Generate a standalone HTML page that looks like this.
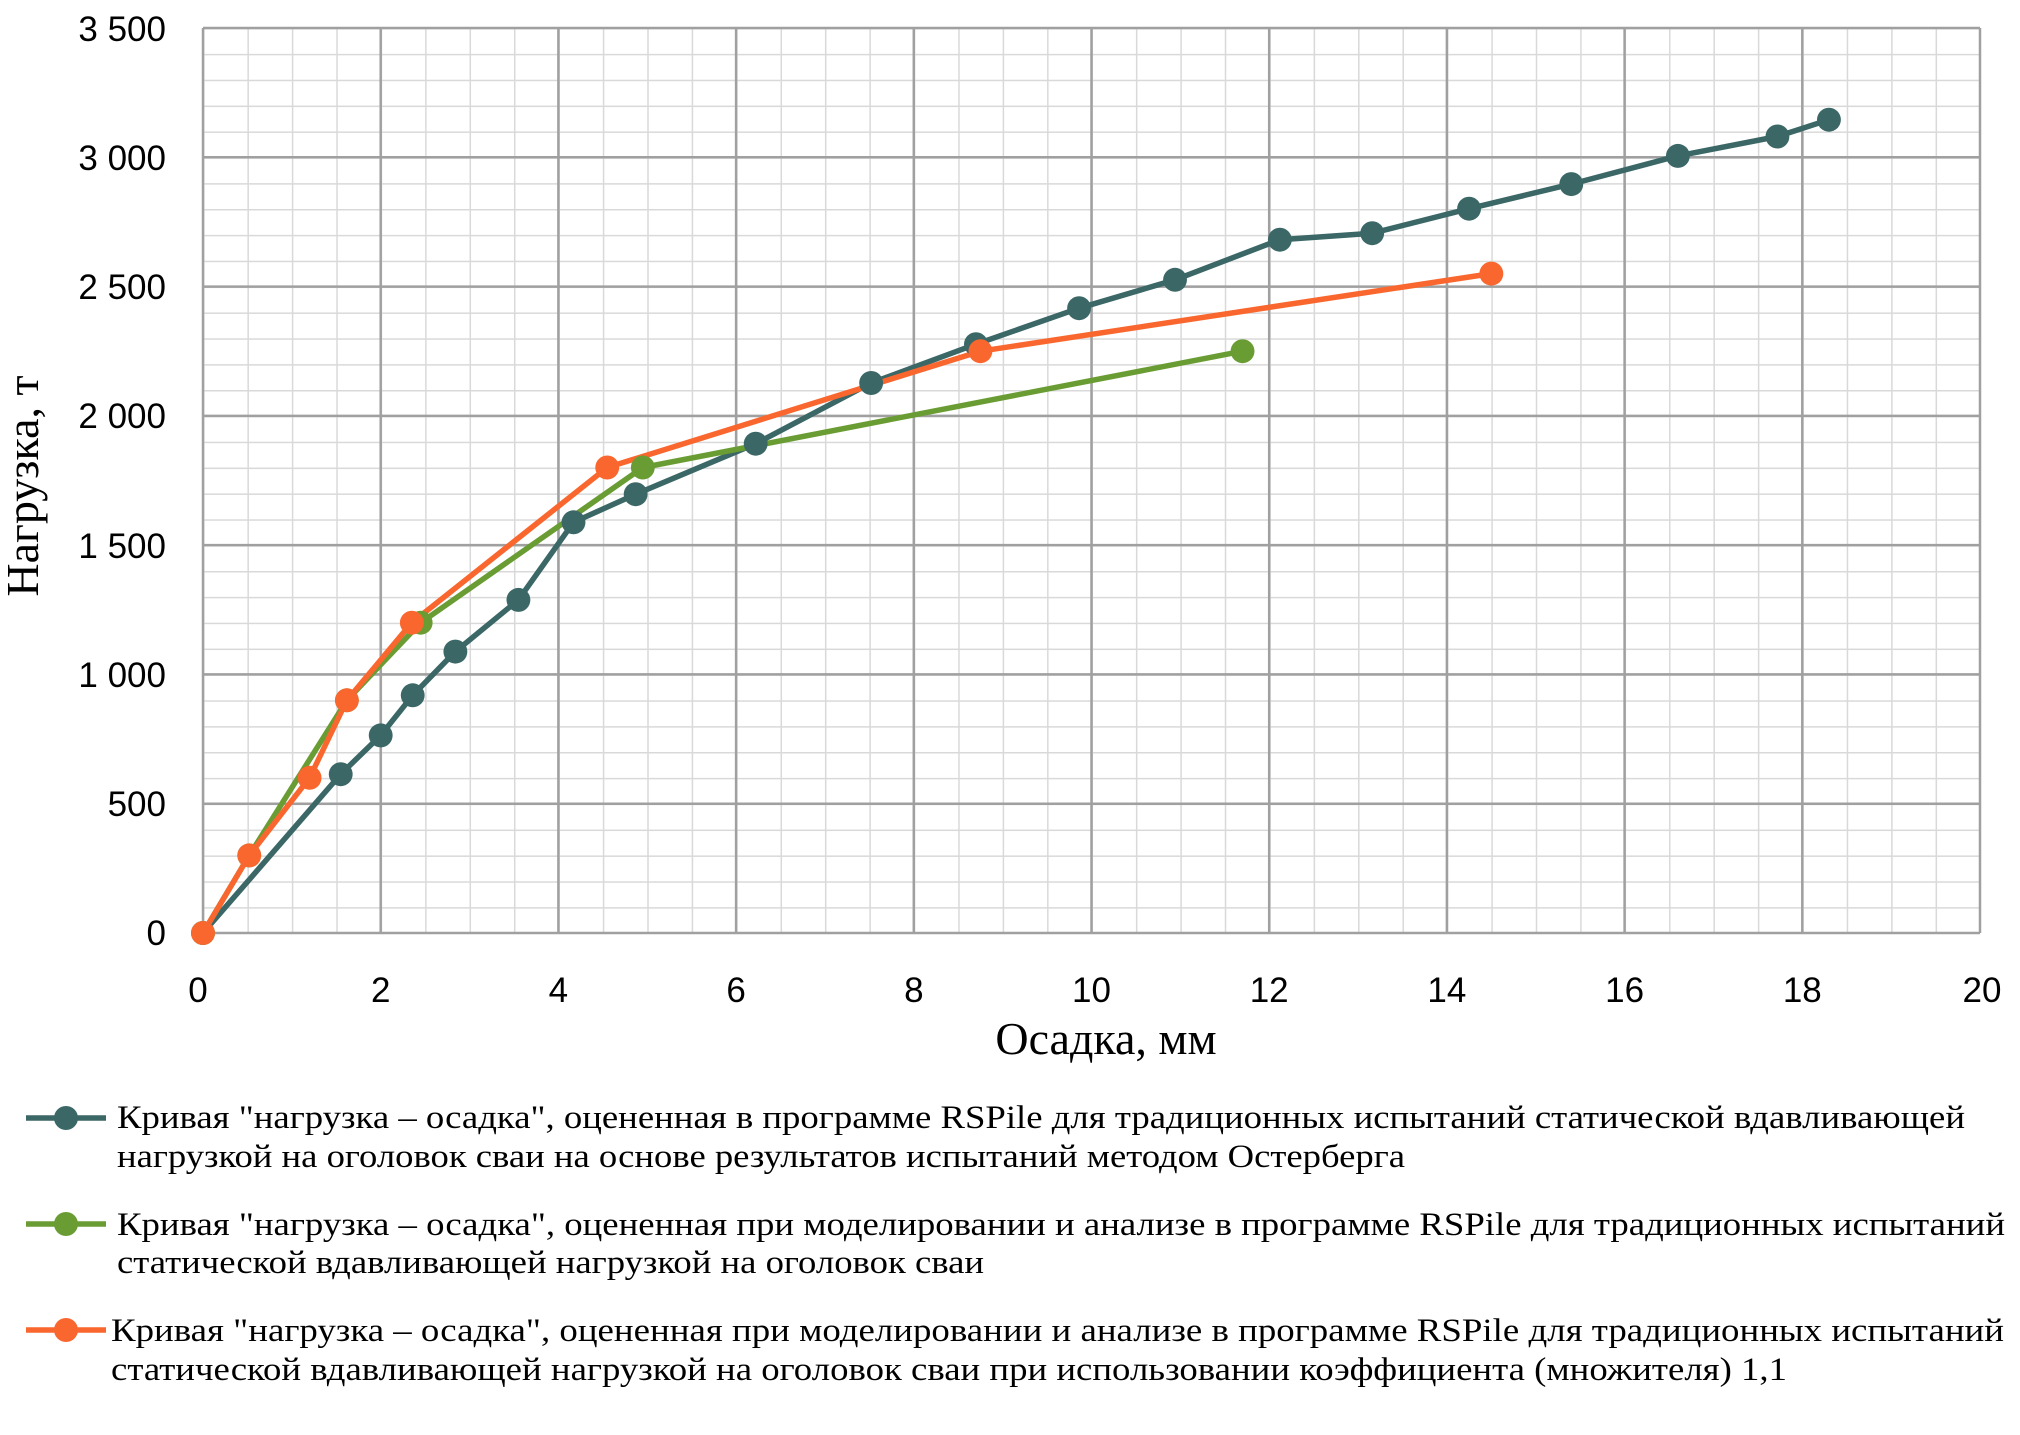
<!DOCTYPE html>
<html><head><meta charset="utf-8"><style>
html,body{margin:0;padding:0;background:#fff;width:2020px;height:1435px;overflow:hidden}
</style></head><body>
<svg width="2020" height="1435" xmlns="http://www.w3.org/2000/svg">
<defs>
<pattern id="mg" x="203" y="28" width="44.675" height="25.857" patternUnits="userSpaceOnUse">
<path d="M0 0 V25.857 M0 0 H44.675" stroke="#d9d9d9" stroke-width="3" fill="none"/>
</pattern>
</defs>
<g transform="translate(203,0) scale(0.9944,1) translate(-203,0)">
<rect x="203" y="28" width="1787" height="905" fill="url(#mg)"/>
<g stroke="#a0a0a0" stroke-width="2.5">
<line x1="203" y1="28" x2="203" y2="933"/><line x1="381.7" y1="28" x2="381.7" y2="933"/><line x1="560.4" y1="28" x2="560.4" y2="933"/><line x1="739.1" y1="28" x2="739.1" y2="933"/><line x1="917.8" y1="28" x2="917.8" y2="933"/><line x1="1096.5" y1="28" x2="1096.5" y2="933"/><line x1="1275.2" y1="28" x2="1275.2" y2="933"/><line x1="1453.9" y1="28" x2="1453.9" y2="933"/><line x1="1632.6" y1="28" x2="1632.6" y2="933"/><line x1="1811.3" y1="28" x2="1811.3" y2="933"/><line x1="1990" y1="28" x2="1990" y2="933"/>
<line x1="203" y1="933" x2="1990" y2="933"/><line x1="203" y1="803.7" x2="1990" y2="803.7"/><line x1="203" y1="674.4" x2="1990" y2="674.4"/><line x1="203" y1="545.1" x2="1990" y2="545.1"/><line x1="203" y1="415.9" x2="1990" y2="415.9"/><line x1="203" y1="286.6" x2="1990" y2="286.6"/><line x1="203" y1="157.3" x2="1990" y2="157.3"/><line x1="203" y1="28" x2="1990" y2="28"/>
</g>
<g fill="none" stroke-width="5.5" stroke-linejoin="round">
<polyline stroke="#3b6767" points="203,933 341.5,774.2 381.7,735.4 413.9,695.3 456.8,651.6 520.2,599.9 575.6,522.3 638.1,494.2 758.8,443.7 874.9,383 980.3,344.2 1084,308.2 1180.5,279.8 1285.9,239.7 1378.8,233.2 1476.2,208.7 1579,184.1 1686.2,155.9 1786.3,136.5 1838.1,119.7"/>
<polyline stroke="#6a9c34" points="203,933 249.5,855.4 347.7,700.3 421.9,622.7 645.3,467.5 1248.4,351.2"/>
<polyline stroke="#f9672f" points="203,933 249.5,855.4 310.2,777.8 347.7,700.3 413,622.7 609.5,467.5 984.8,351.2 1498.6,273.6"/>
</g>
<g fill="#3b6767">
<circle cx="203" cy="933" r="12"/><circle cx="341.5" cy="774.2" r="12"/><circle cx="381.7" cy="735.4" r="12"/><circle cx="413.9" cy="695.3" r="12"/><circle cx="456.8" cy="651.6" r="12"/><circle cx="520.2" cy="599.9" r="12"/><circle cx="575.6" cy="522.3" r="12"/><circle cx="638.1" cy="494.2" r="12"/><circle cx="758.8" cy="443.7" r="12"/><circle cx="874.9" cy="383" r="12"/><circle cx="980.3" cy="344.2" r="12"/><circle cx="1084" cy="308.2" r="12"/><circle cx="1180.5" cy="279.8" r="12"/><circle cx="1285.9" cy="239.7" r="12"/><circle cx="1378.8" cy="233.2" r="12"/><circle cx="1476.2" cy="208.7" r="12"/><circle cx="1579" cy="184.1" r="12"/><circle cx="1686.2" cy="155.9" r="12"/><circle cx="1786.3" cy="136.5" r="12"/><circle cx="1838.1" cy="119.7" r="12"/>
</g>
<g fill="#6a9c34">
<circle cx="203" cy="933" r="12"/><circle cx="249.5" cy="855.4" r="12"/><circle cx="347.7" cy="700.3" r="12"/><circle cx="421.9" cy="622.7" r="12"/><circle cx="645.3" cy="467.5" r="12"/><circle cx="1248.4" cy="351.2" r="12"/>
</g>
<g fill="#f9672f">
<circle cx="203" cy="933" r="12"/><circle cx="249.5" cy="855.4" r="12"/><circle cx="310.2" cy="777.8" r="12"/><circle cx="347.7" cy="700.3" r="12"/><circle cx="413" cy="622.7" r="12"/><circle cx="609.5" cy="467.5" r="12"/><circle cx="984.8" cy="351.2" r="12"/><circle cx="1498.6" cy="273.6" r="12"/>
</g>
</g>
<g font-family="Liberation Sans, sans-serif" font-size="35" fill="#000" text-anchor="end">
<text x="166" y="945">0</text><text x="166" y="816">500</text><text x="166" y="687">1 000</text><text x="166" y="558">1 500</text><text x="166" y="428">2 000</text><text x="166" y="299">2 500</text><text x="166" y="170">3 000</text><text x="166" y="41">3 500</text>
</g>
<g font-family="Liberation Sans, sans-serif" font-size="35" fill="#000" text-anchor="middle">
<text x="198" y="1002">0</text><text x="380.7" y="1002">2</text><text x="558.4" y="1002">4</text><text x="736.1" y="1002">6</text><text x="913.8" y="1002">8</text><text x="1091.5" y="1002">10</text><text x="1269.2" y="1002">12</text><text x="1446.9" y="1002">14</text><text x="1624.6" y="1002">16</text><text x="1802.3" y="1002">18</text><text x="1982" y="1002">20</text>
</g>
<text x="1106" y="1054" font-family="Liberation Serif, serif" font-size="46" text-anchor="middle">Осадка, мм</text>
<text transform="translate(38,486) rotate(-90)" font-family="Liberation Serif, serif" font-size="46" text-anchor="middle">Нагрузка, т</text>

<g stroke-width="5.5">
<line x1="26" y1="1118" x2="106" y2="1118" stroke="#3b6767"/><circle cx="66" cy="1118" r="12" fill="#3b6767"/>
<line x1="26" y1="1224" x2="106" y2="1224" stroke="#6a9c34"/><circle cx="66" cy="1224" r="12" fill="#6a9c34"/>
<line x1="26" y1="1330" x2="106" y2="1330" stroke="#f9672f"/><circle cx="66" cy="1330" r="12" fill="#f9672f"/>
</g>
<g font-family="Liberation Serif, serif" font-size="33" fill="#000">
<text x="117" y="1128" textLength="1848" lengthAdjust="spacingAndGlyphs">Кривая "нагрузка – осадка", оцененная в программе RSPile для традиционных испытаний  статической вдавливающей</text>
<text x="117" y="1167" textLength="1288" lengthAdjust="spacingAndGlyphs">нагрузкой на оголовок сваи  на основе результатов испытаний методом  Остерберга</text>
<text x="117" y="1235" textLength="1888" lengthAdjust="spacingAndGlyphs">Кривая "нагрузка – осадка", оцененная при моделировании и анализе в программе RSPile для традиционных испытаний</text>
<text x="117" y="1273" textLength="867" lengthAdjust="spacingAndGlyphs">статической вдавливающей  нагрузкой на оголовок сваи</text>
<text x="111" y="1341" textLength="1893" lengthAdjust="spacingAndGlyphs">Кривая "нагрузка – осадка", оцененная при моделировании и анализе в программе RSPile  для традиционных испытаний</text>
<text x="111" y="1380" textLength="1676" lengthAdjust="spacingAndGlyphs">статической вдавливающей  нагрузкой на оголовок сваи  при использовании коэффициента (множителя) 1,1</text>
</g>
</svg>
</body></html>
